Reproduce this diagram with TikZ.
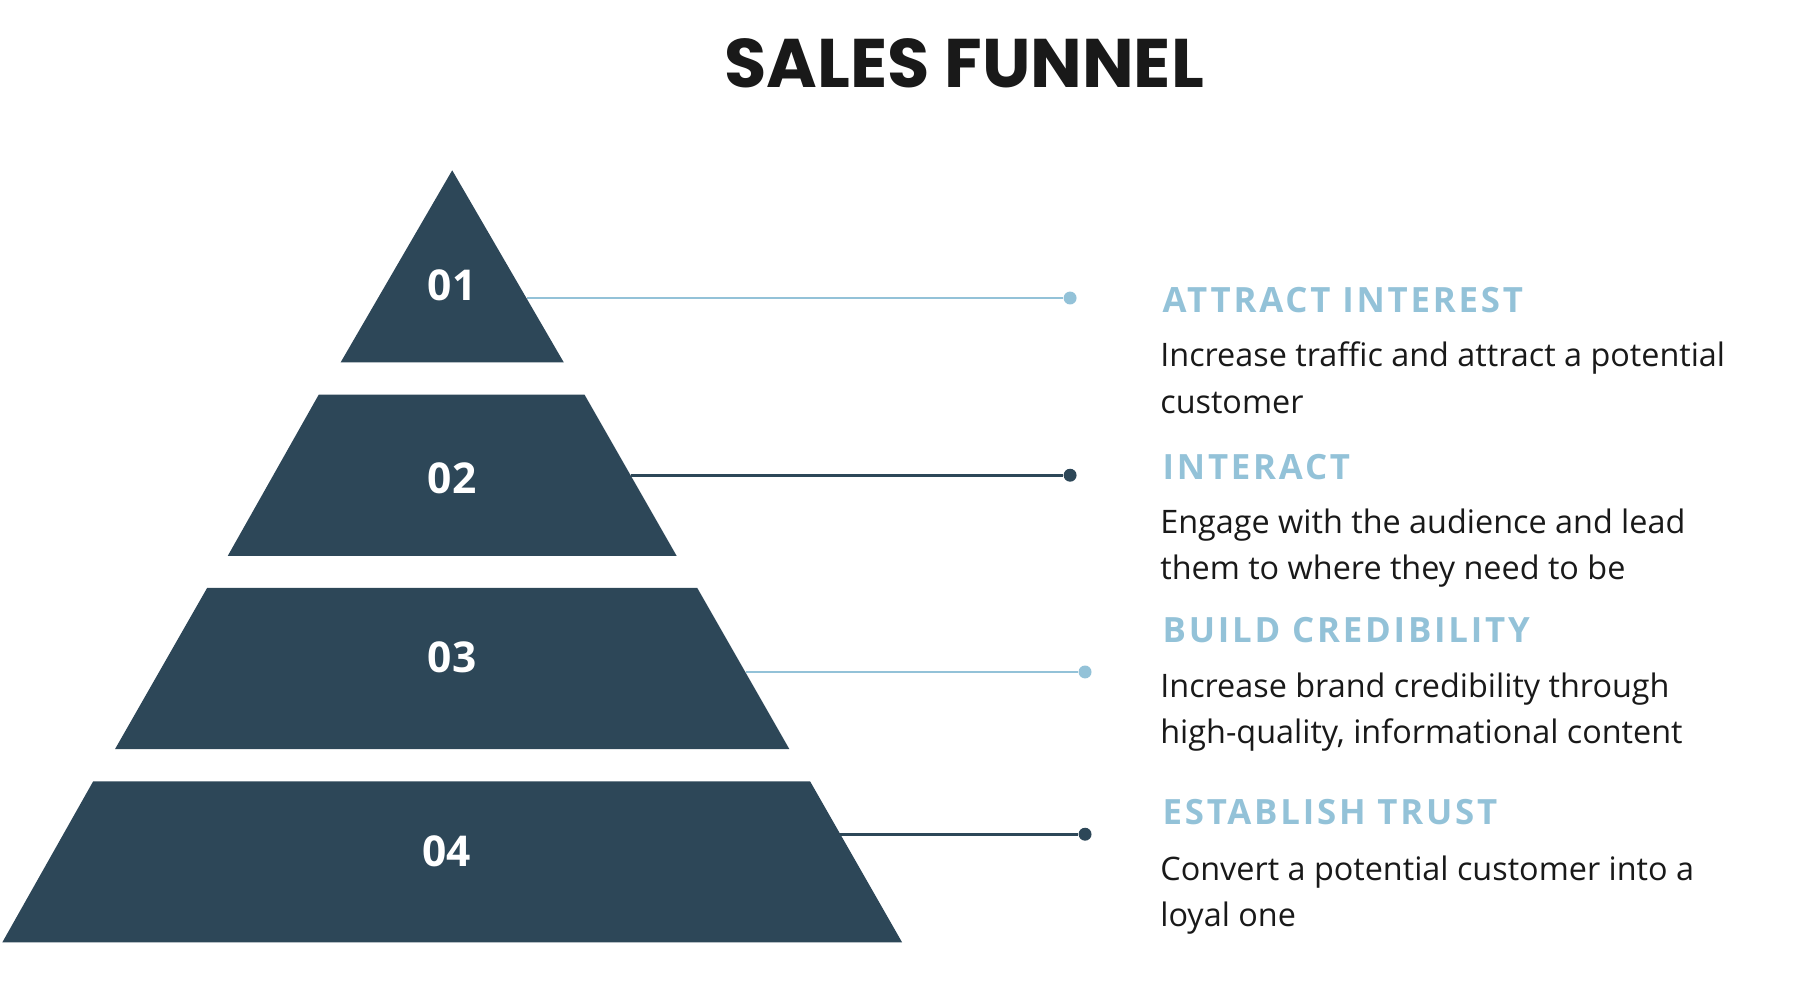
\documentclass[tikz,border=0pt]{standalone}
\usepackage{fontspec}
\setmainfont{Open Sans}
\newfontfamily\titlefont{Poppins}
\definecolor{dk}{HTML}{2D4758}
\definecolor{lb}{HTML}{93C2D8}
\begin{document}
\begin{tikzpicture}[x=0.01cm,y=-0.01cm,
  seg/.style={fill=dk,draw=none},
  num/.style={text=white,font=\bfseries\fontsize{10.5}{12}\selectfont},
  head/.style={anchor=west,text=lb,font=\bfseries\fontsize{8.6}{10}\selectfont\addfontfeature{LetterSpace=8}},
  body/.style={anchor=north west,align=left,text=black!90,font=\fontsize{8}{11.4}\selectfont},
  ln/.style={line width=0.7pt},
  dotc/.style={circle,inner sep=0pt,minimum size=3.2pt}]
\useasboundingbox (0,0) rectangle (1560,867);
\node[font=\titlefont\bfseries\fontsize{17}{20}\selectfont,text=black!90] (title) at (838,55) {SALES FUNNEL};
\fill[seg] (393,148) -- (490,315) -- (296,315) -- cycle;
\fill[seg] (277,343) -- (508,343) -- (588,483) -- (198,483) -- cycle;
\fill[seg] (180,511) -- (606,511) -- (686,651) -- (100,651) -- cycle;
\fill[seg] (81,679) -- (704,679) -- (784,819) -- (2,819) -- cycle;
\node[num] (n1) at (393,248) {01};
\node[num] (n2) at (393,416) {02};
\node[num] (n3) at (393,571) {03};
\node[num] (n4) at (388,740) {04};
\coordinate (s1) at (458,259); \node[dotc,fill=lb] (d1) at (930,259) {};
\coordinate (s2) at (548,413); \node[dotc,fill=dk] (d2) at (930,413) {};
\coordinate (s3) at (648,584); \node[dotc,fill=lb] (d3) at (943,584) {};
\coordinate (s4) at (730,725); \node[dotc,fill=dk] (d4) at (943,725) {};
\draw[ln,lb] (s1) -- (d1);
\draw[ln,dk] (s2) -- (d2);
\draw[ln,lb] (s3) -- (d3);
\draw[ln,dk] (s4) -- (d4);
\node[head] (h1) at (998,261) {ATTRACT INTEREST};
\node[head] (h2) at (998,406) {INTERACT};
\node[head] (h3) at (998,548) {BUILD CREDIBILITY};
\node[head] (h4) at (998,706) {ESTABLISH TRUST};
\node[body] (b1) at (996,285) {Increase traffic and attract a potential\\customer};
\node[body] (b2) at (996,430) {Engage with the audience and lead\\them to where they need to be};
\node[body] (b3) at (996,572) {Increase brand credibility through\\high-quality, informational content};
\node[body] (b4) at (996,731) {Convert a potential customer into a\\loyal one};
\end{tikzpicture}
\end{document}
